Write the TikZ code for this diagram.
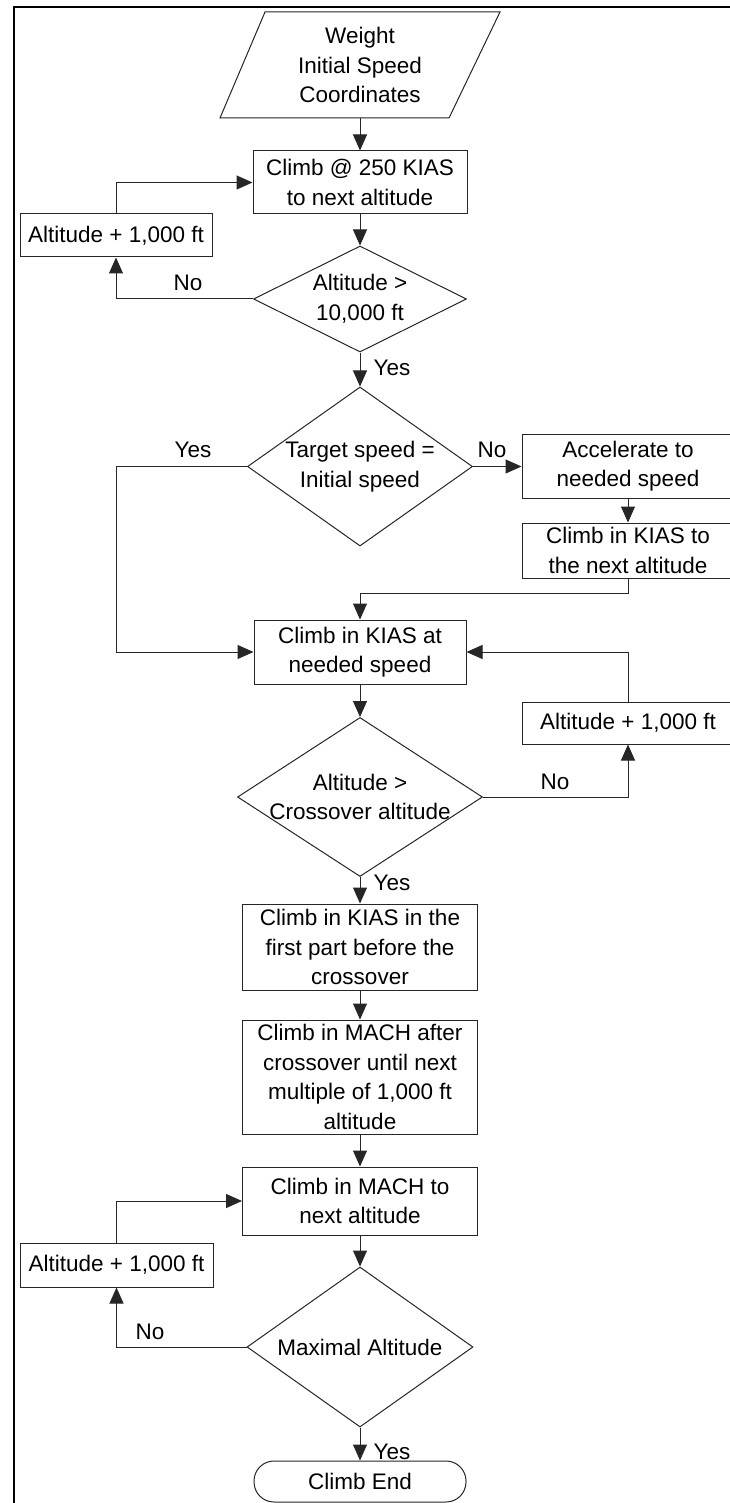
\documentclass[tikz,border=0pt]{standalone}
\usepackage{fontspec}
\setmainfont{Liberation Sans}
\usetikzlibrary{shapes.geometric,arrows.meta}
\begin{document}
\begin{tikzpicture}[x=1pt,y=-1pt,
  every node/.style={font=\fontsize{22.5}{29.5}\selectfont},
  box/.style={draw=black!85, line width=1pt, fill=white, inner sep=0pt, align=center},
  dia/.style={draw=black!85, line width=1pt, fill=white, shape=diamond, inner sep=0pt},
  arr/.style={draw=black!85, line width=1pt, -{Triangle[length=16pt,width=14pt]}},
  lbl/.style={inner sep=0pt},
]
\clip (0,0) rectangle (730,1503);
\fill[white] (0,0) rectangle (730,1503);
% outer frame (top and left edges)
\draw[line width=2pt] (14,1530) -- (14,7) -- (760,7);

% input parallelogram
\draw[draw=black!85, line width=1pt] (265,12) -- (500,12) -- (449,118) -- (220,118) -- cycle;
\node[align=center] (in) at (360,65) {Weight\\Initial Speed\\Coordinates};
\coordinate (inbot) at (360,118);

% main column
\node[box, minimum width=214pt, minimum height=63pt] (A) at (360,182.5) {Climb @ 250 KIAS\\to next altitude};
\node[box, minimum width=192pt, minimum height=43pt] (L1) at (116,235.5) {Altitude + 1,000 ft};
\node[dia, minimum width=213pt, minimum height=106pt,
      label={[align=center]center:{Altitude >\\10,000 ft}}] (D1) at (360,299) {};
\node[dia, minimum width=225pt, minimum height=159pt,
      label={[align=center]center:{Target speed =\\Initial speed}}] (D2) at (360,466.5) {};
\node[box, minimum width=212pt, minimum height=64pt] (B1) at (628,466) {Accelerate to\\needed speed};
\node[box, minimum width=212pt, minimum height=55pt] (B2) at (628,550.5) {Climb in KIAS to\\the next altitude};
\node[box, minimum width=212pt, minimum height=64pt] (C) at (360,652) {Climb in KIAS at\\needed speed};
\node[box, minimum width=212pt, minimum height=42pt] (R1) at (628,723) {Altitude + 1,000 ft};
\node[dia, minimum width=245pt, minimum height=159pt,
      label={[align=center]center:{Altitude >\\Crossover altitude}}] (D3) at (360,797) {};
\node[box, minimum width=235pt, minimum height=86pt] (E1) at (360,947) {Climb in KIAS in the\\first part before the\\crossover};
\node[box, minimum width=235pt, minimum height=114pt] (E2) at (360,1077) {Climb in MACH after\\crossover until next\\multiple of 1,000 ft\\altitude};
\node[box, minimum width=235pt, minimum height=68pt] (F) at (360,1201) {Climb in MACH to\\next altitude};
\node[box, minimum width=193pt, minimum height=44pt] (L2) at (116.5,1265) {Altitude + 1,000 ft};
\node[dia, minimum width=226pt, minimum height=160pt,
      label={[align=center]center:{Maximal Altitude}}] (D4) at (360,1347) {};
\node[box, rounded corners=20pt, minimum width=212pt, minimum height=41pt] (End) at (360,1481.5) {Climb End};

% connectors
\draw[arr] (inbot) -- (A);
\draw[arr] (L1.north) |- (A.west);
\draw[arr] (A) -- (D1);
\draw[arr] (D1.west) -| (L1.south);
\draw[arr] (D1) -- (D2);
\draw[arr] (D2.east) -- (D2.east -| B1.west);
\draw[arr] (B1) -- (B2);
\draw[arr] (B2.south) -- ++(0,15) -| (C.north);
\draw[arr] (D2.west) -- (D2.west -| L1.south) |- (C.west);
\draw[arr] (C) -- (D3);
\draw[arr] (D3.east) -| (R1.south);
\draw[arr] (R1.north) |- (C.east);
\draw[arr] (D3) -- (E1);
\draw[arr] (E1) -- (E2);
\draw[arr] (E2) -- (F);
\draw[arr] (F) -- (D4);
\draw[arr] (D4.west) -| (L2.south);
\draw[arr] (L2.north) |- (F.west);
\draw[arr] (D4) -- (End);

% branch labels
\node[lbl] (n1) at (188,283) {No};
\node[lbl] (y1) at (392,368) {Yes};
\node[lbl] (y2) at (193,450) {Yes};
\node[lbl] (n2) at (492,450) {No};
\node[lbl] (n3) at (555,782) {No};
\node[lbl] (y3) at (392,883) {Yes};
\node[lbl] (n4) at (150,1332) {No};
\node[lbl] (y4) at (392,1452) {Yes};
\end{tikzpicture}
\end{document}
